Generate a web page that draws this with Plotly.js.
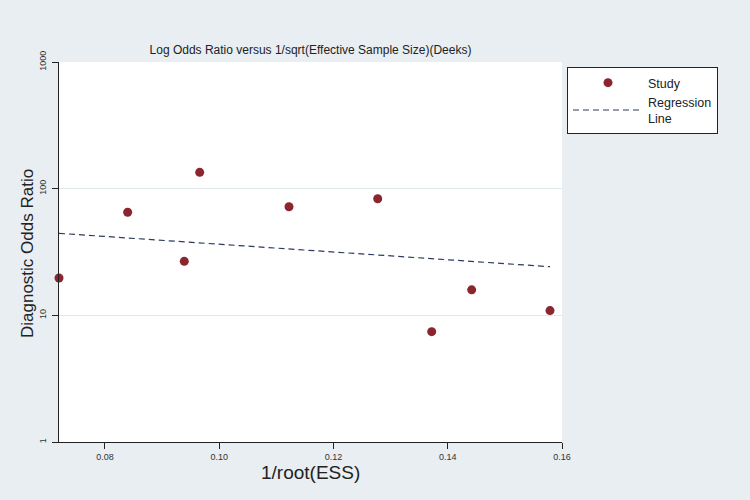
<!DOCTYPE html>
<html>
<head>
<meta charset="utf-8">
<script src="https://cdn.plot.ly/plotly-3.0.1.min.js"></script>
<style>html,body{margin:0;padding:0;background:#e8eef1;}#chart{width:750px;height:500px;}</style>
</head>
<body>
<div id="chart"></div>
<script>
// Study points: 1/root(ESS) and diagnostic odds ratio
const studyX = [0.07195, 0.08397, 0.09388, 0.09658, 0.11221, 0.12774, 0.13719, 0.14419, 0.15790];
const studyY = [19.7, 65.1, 26.7, 134.6, 72.0, 83.3, 7.43, 15.9, 10.9];
// Regression line endpoints
const lineX = [0.07195, 0.1579];
const lineY = [44.4, 24.2];
const xTicks = [0.08, 0.10, 0.12, 0.14, 0.16];
const xTickText = ['0.08', '0.10', '0.12', '0.14', '0.16'];
const yTicks = [1, 10, 100, 1000];
const yTickText = ['1', '10', '100', '1000'];

const font = 'Liberation Sans, Arial, sans-serif';

const traces = [
  {
    x: studyX, y: studyY, type: 'scatter', mode: 'markers', name: 'Study',
    marker: {color: '#8b2530', size: 9, line: {width: 0}},
    cliponaxis: false
  },
  {
    x: lineX, y: lineY, type: 'scatter', mode: 'lines', name: 'Regression<br>Line',
    line: {color: '#2c3b5e', width: 1.2, dash: '6px,4px'}
  }
];

const L = 59, R = 562, T = 62, B = 442;

const layout = {
  width: 750, height: 500,
  paper_bgcolor: '#e8eef1', plot_bgcolor: '#ffffff',
  margin: {l: L, r: 750 - R, t: T, b: 500 - B},
  font: {family: font, color: '#222'},
  title: {text: 'Log Odds Ratio versus 1/sqrt(Effective Sample Size)(Deeks)',
          font: {family: font, size: 12, color: '#222'},
          x: 0.414, xanchor: 'center', y: 0.9, yanchor: 'middle'},
  xaxis: {
    range: [0.07195, 0.16], tickvals: xTicks, ticktext: xTickText,
    showgrid: false, zeroline: false, showline: true, linecolor: '#222', linewidth: 1,
    ticks: 'outside', ticklen: 6, tickcolor: '#222',
    tickfont: {family: font, size: 9, color: '#333'}
  },
  yaxis: {
    type: 'log', range: [0, 3], tickvals: yTicks, ticktext: yTickText,
    tickangle: -90, ticklabelstandoff: 2,
    showgrid: true, gridcolor: '#dfe7ea', gridwidth: 1,
    zeroline: false, showline: true, linecolor: '#222', linewidth: 1,
    ticks: 'outside', ticklen: 6, tickcolor: '#222',
    tickfont: {family: font, size: 9, color: '#333'}
  },
  annotations: [
    {text: '1/root(ESS)', xref: 'paper', yref: 'paper',
     x: 0.5, y: -(472 - B) / (B - T), xanchor: 'center', yanchor: 'middle',
     showarrow: false, font: {family: font, size: 19, color: '#222'}},
    {text: 'Diagnostic Odds Ratio', xref: 'paper', yref: 'paper',
     x: -(L - 27) / (R - L), y: 1 - (254 - T) / (B - T), xanchor: 'center', yanchor: 'middle',
     textangle: -90, showarrow: false, font: {family: font, size: 17, color: '#222'}}
  ],
  legend: {
    x: (567 - L) / (R - L), y: 1 - (67 - T) / (B - T), xanchor: 'left', yanchor: 'top',
    bgcolor: '#ffffff', bordercolor: '#222', borderwidth: 1,
    font: {family: font, size: 12.5, color: '#222'},
    itemwidth: 70, tracegroupgap: 0, entrywidth: 82
  },
  showlegend: true
};

Plotly.newPlot('chart', traces, layout, {displayModeBar: false, staticPlot: true});
</script>
</body>
</html>
